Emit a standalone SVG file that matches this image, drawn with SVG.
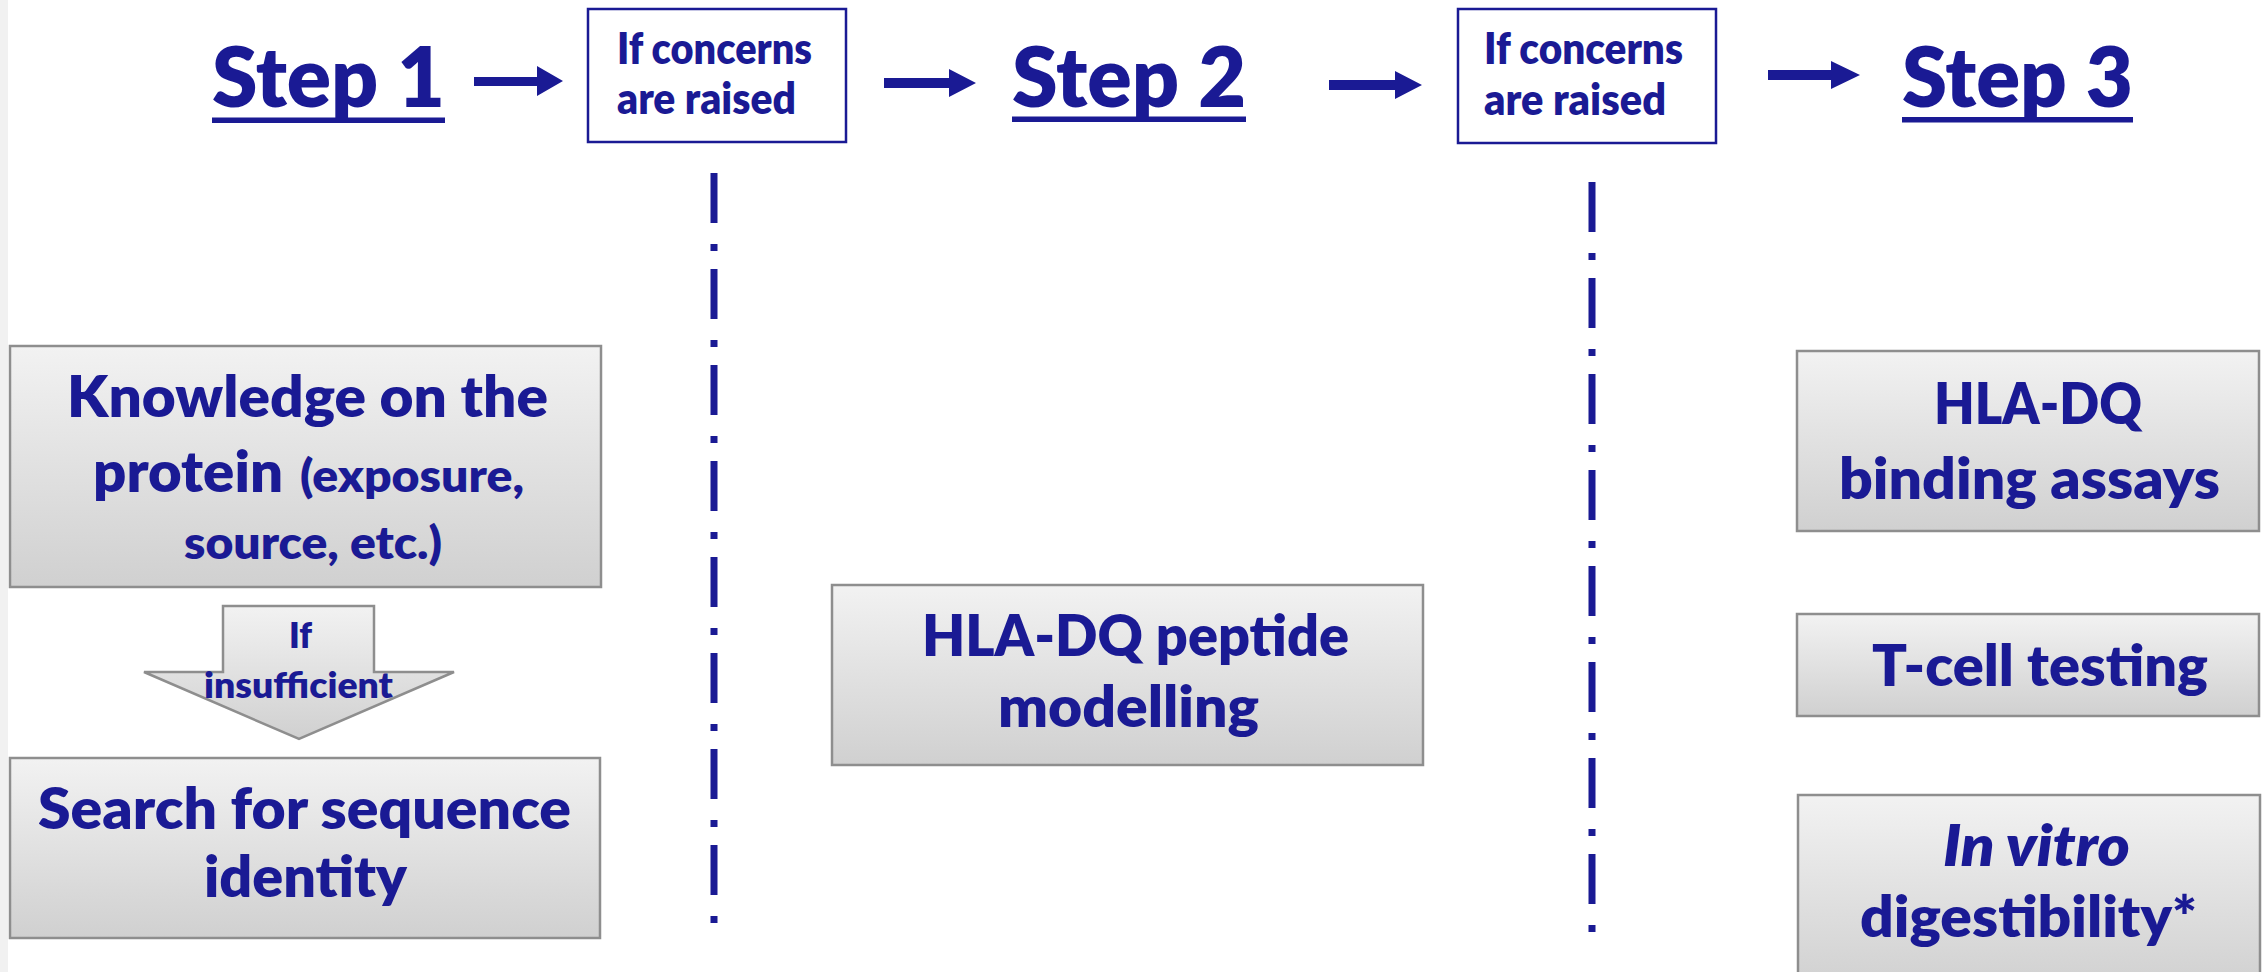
<svg xmlns="http://www.w3.org/2000/svg" width="2262" height="972" viewBox="0 0 2262 972">
<defs>
<linearGradient id="g" x1="0" y1="0" x2="0" y2="1">
<stop offset="0" stop-color="#f2f2f2"/>
<stop offset="1" stop-color="#d0d0d0"/>
</linearGradient>
<style>
.t{font-family:Lato,"Open Sans","Liberation Sans",sans-serif;font-weight:800;fill:#1a1a94}
.step{font-size:84px}
.cond{font-size:43px}
.main{font-size:57px}
.sub{font-size:46px}
.small{font-size:36px}
.box{fill:url(#g);stroke:#8e8e8e;stroke-width:2.5}
.ifbox{fill:#ffffff;stroke:#1a1a94;stroke-width:2.5}
.arr{fill:#1a1a94}
.dd{stroke:#1a1a94;stroke-width:7;fill:none;stroke-dasharray:50 21 7 18}
</style>
</defs>
<rect x="0" y="0" width="2262" height="972" fill="#ffffff"/>
<rect x="0" y="0" width="8" height="972" fill="#f1f1f1"/>

<g id="step1">
<text class="t step" x="212" y="107" textLength="233" lengthAdjust="spacingAndGlyphs">Step 1</text>
<rect x="212" y="117.5" width="233" height="5.5" class="arr"/>
</g>
<g id="concern1">
<rect class="ifbox" x="588" y="9" width="258" height="133"/>
<text class="t cond" x="617" y="64" textLength="195" lengthAdjust="spacingAndGlyphs">If concerns</text>
<text class="t cond" x="617" y="114" textLength="179" lengthAdjust="spacingAndGlyphs">are raised</text>
</g>
<g id="step2">
<text class="t step" x="1012" y="107" textLength="234" lengthAdjust="spacingAndGlyphs">Step 2</text>
<rect x="1012" y="116.5" width="234" height="5.5" class="arr"/>
</g>
<g id="concern2">
<rect class="ifbox" x="1458" y="9" width="258" height="134"/>
<text class="t cond" x="1484" y="64" textLength="199" lengthAdjust="spacingAndGlyphs">If concerns</text>
<text class="t cond" x="1484" y="115" textLength="182" lengthAdjust="spacingAndGlyphs">are raised</text>
</g>
<g id="step3">
<text class="t step" x="1902" y="107" textLength="231" lengthAdjust="spacingAndGlyphs">Step 3</text>
<rect x="1902" y="117" width="231" height="5.5" class="arr"/>
</g>

<g id="connectors">
<polygon class="arr" points="474,77 537,77 537,66 563,81 537,96 537,86 474,86"/>
<polygon class="arr" points="884,78 949,78 949,69 976,83 949,97 949,88 884,88"/>
<polygon class="arr" points="1329,80 1395,80 1395,71 1422,85 1395,99 1395,90 1329,90"/>
<polygon class="arr" points="1768,70 1831,70 1831,61 1860,75 1831,89 1831,80 1768,80"/>
<line class="dd" x1="714" y1="173" x2="714" y2="923"/>
<line class="dd" x1="1592" y1="182" x2="1592" y2="932"/>
</g>

<g id="knowledge">
<rect class="box" x="10" y="346" width="591" height="241"/>
<text class="t main" x="67" y="417" textLength="481" lengthAdjust="spacingAndGlyphs">Knowledge on the</text>
<text class="t main" x="93" y="492" textLength="190" lengthAdjust="spacingAndGlyphs">protein</text>
<text class="t sub" x="300" y="492" textLength="224" lengthAdjust="spacingAndGlyphs">(exposure,</text>
<text class="t sub" x="184" y="559" textLength="258" lengthAdjust="spacingAndGlyphs">source, etc.)</text>
</g>

<g id="if-insufficient">
<polygon class="box" points="223,606 374,606 374,672 454,672 299,739 144,672 223,672"/>
<text class="t small" x="289" y="648" textLength="23" lengthAdjust="spacingAndGlyphs">If</text>
<text class="t small" x="204" y="698" textLength="189" lengthAdjust="spacingAndGlyphs">insufficient</text>
</g>

<g id="search">
<rect class="box" x="10" y="758" width="590" height="180"/>
<text class="t main" x="38" y="829" textLength="533" lengthAdjust="spacingAndGlyphs">Search for sequence</text>
<text class="t main" x="204" y="897" textLength="203" lengthAdjust="spacingAndGlyphs">identity</text>
</g>

<g id="modelling">
<rect class="box" x="832" y="585" width="591" height="180"/>
<text class="t main" x="922" y="656" textLength="427" lengthAdjust="spacingAndGlyphs">HLA-DQ peptide</text>
<text class="t main" x="998" y="727" textLength="261" lengthAdjust="spacingAndGlyphs">modelling</text>
</g>

<g id="binding">
<rect class="box" x="1797" y="351" width="462" height="180"/>
<text class="t main" x="1934" y="424" textLength="208" lengthAdjust="spacingAndGlyphs">HLA-DQ</text>
<text class="t main" x="1839" y="499" textLength="381" lengthAdjust="spacingAndGlyphs">binding assays</text>
</g>

<g id="tcell">
<rect class="box" x="1797" y="614" width="462" height="102"/>
<text class="t main" x="1872" y="686" textLength="336" lengthAdjust="spacingAndGlyphs">T-cell testing</text>
</g>

<g id="digestibility">
<rect class="box" x="1798" y="795" width="462" height="195"/>
<text class="t main" x="1943" y="866" textLength="187" lengthAdjust="spacingAndGlyphs" font-style="italic">In vitro</text>
<text class="t main" x="1860" y="937" textLength="337" lengthAdjust="spacingAndGlyphs">digestibility*</text>
</g>
</svg>
